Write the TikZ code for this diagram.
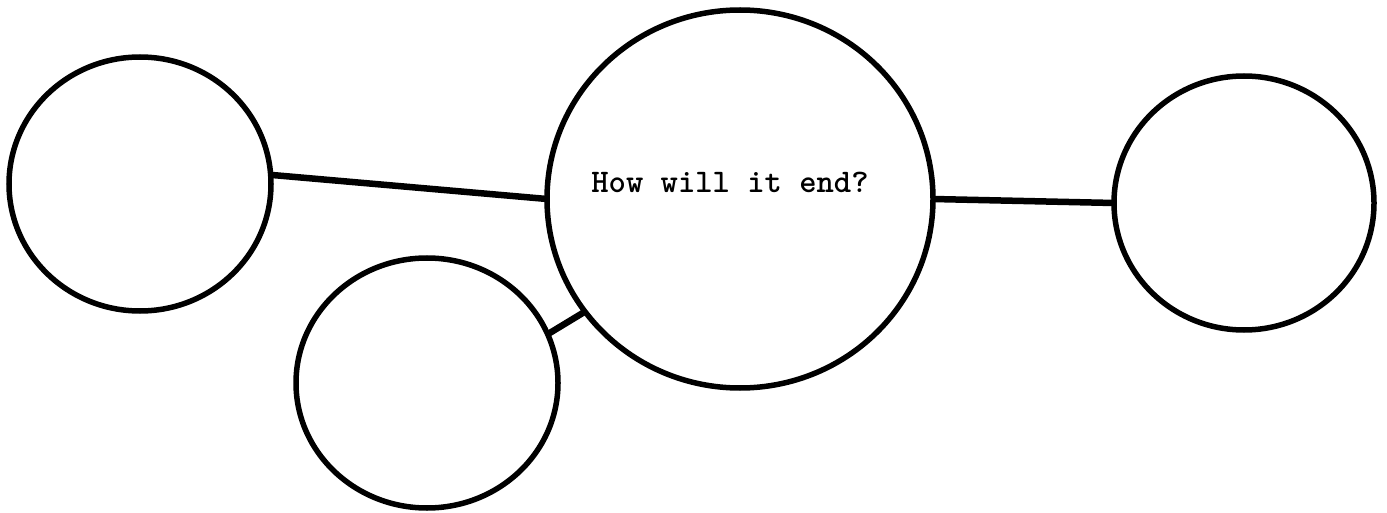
\documentclass[tikz,border=0pt]{standalone}
\usepackage{fontspec}
\usetikzlibrary{shapes.geometric}
\tikzset{
  bubble/.style={ellipse, draw=black, line width=5.5pt, inner sep=0pt, outer sep=0pt},
  link/.style={draw=black, line width=6.5pt},
  label text/.style={font=\ttfamily\bfseries\fontsize{33}{36}\selectfont, inner sep=0pt}
}
\begin{document}
\begin{tikzpicture}[x=1pt,y=-1pt]
\useasboundingbox (0,0) rectangle (1387,513);
\node[bubble, minimum width=262pt, minimum height=254pt] (L) at (140,184) {};
\node[bubble, minimum width=386pt, minimum height=378pt] (C) at (740,199) {};
\node[bubble, minimum width=260pt, minimum height=254pt] (R) at (1244,203) {};
\node[bubble, minimum width=262pt, minimum height=250pt] (B) at (427,383) {};
\node[label text] (q) at (730,182) {How will it end?};
\draw[link] (L.4) -- (C.180);
\draw[link] (C.0) -- (R.180);
\draw[link] (B.22) -- (C.216);
\end{tikzpicture}
\end{document}
